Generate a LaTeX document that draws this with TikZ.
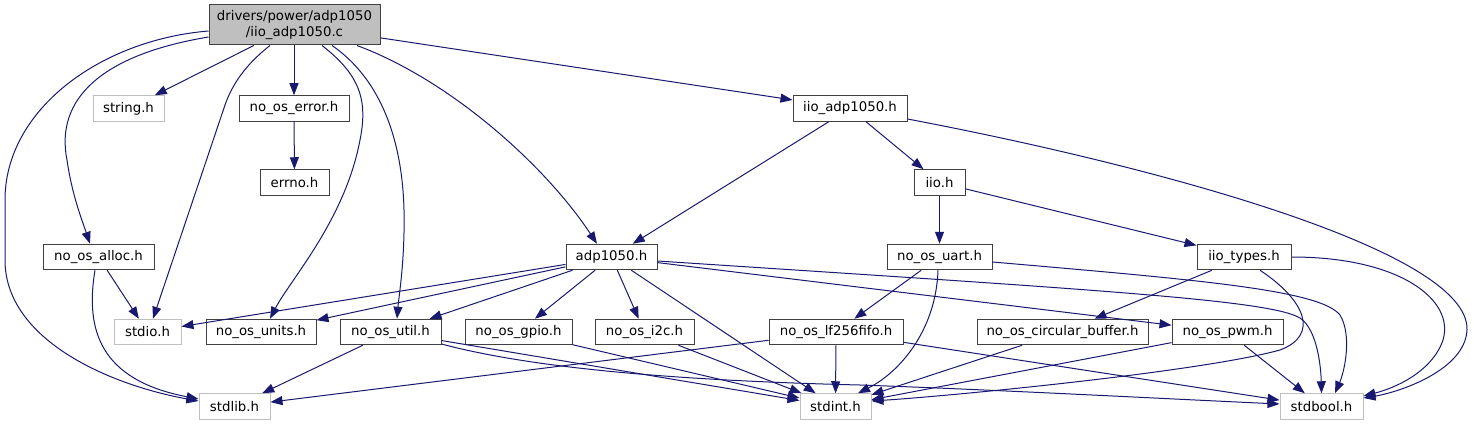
\documentclass[tikz,border=0pt]{standalone}
\usepackage{fontspec}
\setmainfont{DejaVu Sans}
\usetikzlibrary{arrows.meta,calc}
\definecolor{edgec}{HTML}{191970}
\definecolor{boxb}{HTML}{404040}
\definecolor{greyb}{HTML}{BFBFBF}
\begin{document}
\begin{tikzpicture}[x=1pt,y=-1pt,
  box/.style={draw=boxb, line width=1pt, fill=white, minimum height=25.5pt, inner sep=0pt, font=\fontsize{13.3}{16}\selectfont},
  sysbox/.style={box, draw=greyb},
  rootbox/.style={box, fill=greyb, minimum height=40pt, align=center, font=\fontsize{13.3}{16}\selectfont},
  edge/.style={draw=edgec, line width=1pt, -{Triangle[length=12pt,width=9pt]}},
]
\useasboundingbox (0,0) rectangle (1474,425);
% nodes
\node[rootbox, minimum width=171pt] (root) at (294.5,25) {drivers/power/adp1050\\/iio\_adp1050.c};
\node[sysbox, minimum width=71pt] (string) at (128.5,108.5) {string.h};
\node[box, minimum width=110pt] (error) at (294,108.5) {no\_os\_error.h};
\node[box, minimum width=69pt] (errno) at (294.5,182.5) {errno.h};
\node[box, minimum width=114pt] (iioadp) at (850,108.5) {iio\_adp1050.h};
\node[box, minimum width=51pt] (iio) at (939.5,182.5) {iio.h};
\node[box, minimum width=111pt] (alloc) at (98.5,257) {no\_os\_alloc.h};
\node[box, minimum width=91pt] (adp) at (611.5,257) {adp1050.h};
\node[box, minimum width=105pt] (uart) at (939.5,257) {no\_os\_uart.h};
\node[box, minimum width=94pt] (types) at (1244,257) {iio\_types.h};
\node[sysbox, minimum width=67pt] (stdio) at (147.5,332) {stdio.h};
\node[box, minimum width=110pt] (units) at (261,332) {no\_os\_units.h};
\node[box, minimum width=101pt] (util) at (390.5,332) {no\_os\_util.h};
\node[box, minimum width=107pt] (gpio) at (518.5,332) {no\_os\_gpio.h};
\node[box, minimum width=99pt] (i2c) at (644.5,332) {no\_os\_i2c.h};
\node[box, minimum width=134pt] (lf) at (836,332) {no\_os\_lf256fifo.h};
\node[box, minimum width=171pt] (circ) at (1062.5,332) {no\_os\_circular\_buffer.h};
\node[box, minimum width=111pt] (pwm) at (1227.5,332) {no\_os\_pwm.h};
\node[sysbox, minimum width=71pt] (stdlib) at (234.5,406.5) {stdlib.h};
\node[sysbox, minimum width=71pt] (stdint) at (835.5,406.5) {stdint.h};
\node[sysbox, minimum width=83pt] (stdbool) at (1321.5,406.5) {stdbool.h};
% straight edges
\draw[edge] (root) -- (string);
\draw[edge] (root.south -| error) -- (error);
\draw[edge] (root) -- (iioadp);
\draw[edge] (error) -- (errno);
\draw[edge] (iioadp) -- (adp);
\draw[edge] (iioadp) -- (iio);
\draw[edge] (iio) -- (uart);
\draw[edge] (iio) -- (types);
\draw[edge] (alloc) -- (stdio);
\draw[edge] (adp) -- (stdio);
\draw[edge] (adp) -- (units);
\draw[edge] (adp) -- (util);
\draw[edge] (adp) -- (gpio);
\draw[edge] (adp) -- (i2c);
\draw[edge] (adp) -- (stdint);
\draw[edge] (adp) -- (pwm);
\draw[edge] (uart) -- (lf);
\draw[edge] (types) -- (circ);
\draw[edge] (util) -- (stdlib);
\draw[edge] (util) -- (stdint);
\draw[edge] (gpio) -- (stdint);
\draw[edge] (i2c) -- (stdint);
\draw[edge] (lf) -- (stdlib);
\draw[edge] (lf) -- (stdint);
\draw[edge] (lf) -- (stdbool);
\draw[edge] (circ) -- (stdint);
\draw[edge] (pwm) -- (stdint);
\draw[edge] (pwm) -- (stdbool);
% curved edges
\draw[edge] ($(root.west)+(0,6)$) .. controls (100,40) and (5,110) .. (5,200) -- (5,260) .. controls (5,340) and (110,385) .. ($(stdlib.west)+(0,-5.5)$);
\draw[edge] ($(root.west)+(0,12)$) .. controls (100,55) and (55,100) .. (67,160) .. controls (72,195) and (82,220) .. ($(alloc.north)+(-8.5,0)$);
\draw[edge] ($(root.south)+(-24.5,0)$) .. controls (245,65) and (232,85) .. (225,105) -- ($(stdio.north)+(5.5,0)$);
\draw[edge] ($(root.south)+(27.5,0)$) .. controls (360,75) and (368,100) .. (360,140) .. controls (345,220) and (290,280) .. ($(units.north)+(9,0)$);
\draw[edge] ($(root.south)+(37.5,0)$) .. controls (375,75) and (402,130) .. (404,210) .. controls (405,260) and (399,295) .. ($(util.north)+(6.5,0)$);
\draw[edge] ($(root.south)+(62.5,0)$) .. controls (450,80) and (545,165) .. ($(adp.north)+(-14.5,0)$);
\draw[edge] ($(iioadp.east)+(0,10.5)$) .. controls (1150,165) and (1470,250) .. (1467,330) .. controls (1465,370) and (1400,392) .. ($(stdbool.east)+(0,-8.5)$);
\draw[edge] (types.east) .. controls (1400,257) and (1455,300) .. (1443,340) .. controls (1432,372) and (1395,388) .. ($(stdbool.east)+(0,-10.5)$);
\draw[edge] ($(adp.east)+(0,4)$) .. controls (1100,290) and (1270,300) .. (1300,318) .. controls (1318,330) and (1321,370) .. (stdbool.north);
\draw[edge] ($(uart.east)+(0,5)$) .. controls (1200,280) and (1320,290) .. (1340,315) .. controls (1352,335) and (1345,370) .. ($(stdbool.north)+(13.5,0)$);
\draw[edge] ($(uart.south)+(-1.5,0)$) .. controls (936,330) and (900,372) .. ($(stdint.north)+(22.5,0)$);
\draw[edge] ($(types.south)+(16,0)$) .. controls (1305,300) and (1320,335) .. (1280,350) .. controls (1200,372) and (950,396) .. ($(stdint.east)+(0,-5.5)$);
\draw[edge] ($(util.east)+(0,12)$) .. controls (520,365) and (650,380) .. (860,385) .. controls (1000,390) and (1150,398) .. ($(stdbool.west)+(0,-2.5)$);
\draw[edge] ($(alloc.south)+(-3.5,0)$) .. controls (85,330) and (100,380) .. ($(stdlib.west)+(0,-7.5)$);
\end{tikzpicture}
\end{document}
